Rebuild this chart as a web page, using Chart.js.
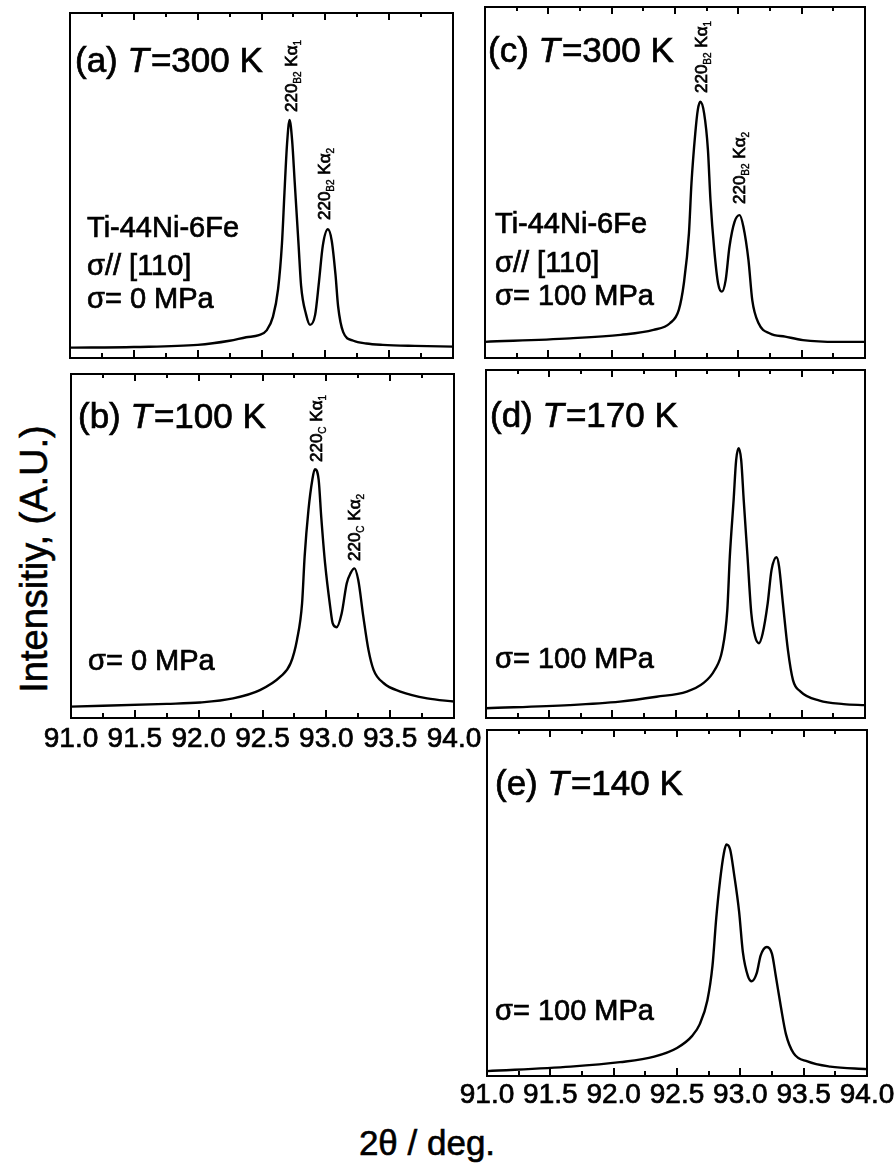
<!DOCTYPE html>
<html>
<head>
<meta charset="utf-8">
<script src="https://cdn.jsdelivr.net/npm/chart.js@4.4.0/dist/chart.umd.min.js"></script>
<style>
  html, body { margin: 0; padding: 0; background: #fff; }
  body { position: relative; width: 896px; height: 1167px; overflow: hidden; font-family: "Liberation Sans", Arial, sans-serif; }
  canvas { position: absolute; }
  .axis-title { position: absolute; color: #000; white-space: nowrap; text-align: center; -webkit-text-stroke: 0.6px #000; }
  #ytitle { left: -166px; top: 539px; width: 400px; height: 40px; line-height: 40px; font-size: 38px; transform: rotate(-90deg); }
  #xtitle { left: 277px; top: 1125px; width: 300px; height: 35px; line-height: 35px; font-size: 35px; }
</style>
</head>
<body>
<div class="axis-title" id="ytitle">Intensitiy, (A.U.)</div>
<div class="axis-title" id="xtitle">2θ / deg.</div>
<script>
// ---------- 2θ axis ----------
const majorTicks = [91.0, 91.5, 92.0, 92.5, 93.0, 93.5, 94.0];
const minorTicks = [91.25, 91.75, 92.25, 92.75, 93.25, 93.75];
const tickLabels = ['91.0', '91.5', '92.0', '92.5', '93.0', '93.5', '94.0'];

// ---------- (a) T=300 K, 0 MPa ----------
const thetaA = [91.0, 91.5, 92.0, 92.25, 92.38, 92.48, 92.54, 92.59, 92.63, 92.66, 92.68, 92.70, 92.72, 92.74, 92.76, 92.79, 92.81, 92.85, 92.88, 92.92, 92.95, 92.98, 93.02, 93.05, 93.08, 93.10, 93.14, 93.22, 93.32, 93.45, 93.7, 94.0];
const intA = [3.0, 3.2, 3.8, 5.0, 6.0, 6.6, 8.0, 12.0, 20.0, 33.0, 48.0, 62.0, 69.0, 63.0, 51.0, 33.0, 21.0, 12.5, 9.6, 12.5, 22.0, 32.5, 37.3, 34.0, 24.0, 15.0, 7.5, 5.0, 4.2, 3.8, 3.5, 3.3];

// ---------- (b) T=100 K, 0 MPa ----------
const thetaB = [91.0, 91.75, 92.01, 92.27, 92.48, 92.64, 92.72, 92.77, 92.81, 92.83, 92.86, 92.89, 92.91, 92.94, 92.96, 92.99, 93.03, 93.05, 93.08, 93.12, 93.16, 93.19, 93.22, 93.25, 93.29, 93.33, 93.37, 93.45, 93.58, 93.79, 94.0];
const intB = [3.3, 4.1, 4.5, 5.7, 8.1, 12.0, 15.9, 22.7, 33.3, 46.9, 60.5, 69.2, 72.3, 69.2, 58.5, 45.0, 32.4, 27.5, 26.4, 30.4, 39.2, 42.1, 43.5, 40.1, 29.4, 19.8, 14.0, 10.1, 7.7, 5.7, 4.8];

// ---------- (c) T=300 K, 100 MPa ----------
const thetaC = [91.0, 91.67, 92.07, 92.33, 92.46, 92.53, 92.57, 92.61, 92.63, 92.66, 92.68, 92.70, 92.73, 92.76, 92.78, 92.81, 92.84, 92.87, 92.90, 92.93, 92.97, 93.01, 93.04, 93.08, 93.11, 93.16, 93.25, 93.37, 93.51, 93.78, 94.0];
const intC = [4.6, 5.6, 6.6, 8.0, 9.9, 13.7, 21.3, 35.5, 49.8, 64.0, 70.7, 73.0, 69.7, 59.3, 45.0, 30.8, 21.3, 18.9, 22.2, 31.7, 38.8, 40.7, 37.4, 27.9, 16.5, 9.9, 7.0, 6.1, 5.1, 4.6, 4.6];

// ---------- (d) T=170 K, 100 MPa ----------
const thetaD = [91.0, 91.66, 92.06, 92.35, 92.59, 92.72, 92.81, 92.87, 92.91, 92.93, 92.96, 92.98, 93.00, 93.02, 93.04, 93.07, 93.10, 93.13, 93.16, 93.19, 93.23, 93.26, 93.30, 93.32, 93.35, 93.39, 93.43, 93.49, 93.64, 93.83, 94.0];
const intD = [2.8, 3.7, 4.7, 6.1, 7.6, 10.0, 13.8, 19.5, 31.0, 46.4, 62.6, 74.1, 77.5, 74.1, 62.6, 46.4, 30.1, 23.4, 21.5, 24.3, 33.0, 42.5, 46.2, 43.5, 33.0, 19.5, 10.9, 7.6, 5.0, 4.0, 3.7];

// ---------- (e) T=140 K, 100 MPa ----------
const thetaE = [91.0, 91.66, 92.05, 92.32, 92.50, 92.62, 92.68, 92.74, 92.78, 92.81, 92.84, 92.87, 92.89, 92.92, 92.95, 92.99, 93.02, 93.06, 93.09, 93.13, 93.16, 93.21, 93.25, 93.28, 93.32, 93.36, 93.42, 93.53, 93.71, 94.0];
const intE = [1.4, 2.7, 4.0, 5.6, 8.1, 11.6, 15.0, 21.9, 31.8, 45.7, 56.5, 64.4, 66.9, 65.4, 58.5, 47.6, 35.8, 28.9, 27.4, 29.8, 34.8, 37.3, 35.3, 28.9, 20.0, 12.1, 6.6, 4.2, 2.7, 2.0];

const FONT = '"Liberation Sans", Arial, sans-serif';
const PAD = 44;

// draws a run of text pieces (italic / subscript) one after another,
// with a hairline stroke so the glyphs come out a little heavier
function rich(ctx, x, y, parts) {
    let cx = x;
    for (const p of parts) {
        ctx.font = (p.italic ? 'italic ' : '') + p.size + 'px ' + FONT;
        ctx.lineWidth = p.size > 12 ? 0.7 : 0.4;
        ctx.fillText(p.text, cx, y + (p.dy || 0));
        ctx.strokeText(p.text, cx, y + (p.dy || 0));
        cx += ctx.measureText(p.text).width + (p.gap || 0);
    }
}

// same, turned to read bottom-to-top
function vertical(ctx, x, y, parts) {
    ctx.save();
    ctx.translate(x, y);
    ctx.rotate(-Math.PI / 2);
    rich(ctx, 0, 0, parts);
    ctx.restore();
}

const title = (tag, temp) => [
    { text: '(' + tag + ') ', size: 35 },
    { text: 'T', size: 35, italic: true, gap: 2 },
    { text: '=' + temp + ' K', size: 35 }
];
const line = (text) => [{ text: text, size: 29 }];
const peakTag = (phase, n) => [
    { text: '220', size: 17 },
    { text: phase, size: 10, dy: 4 },
    { text: ' K\u03b1', size: 17 },
    { text: n, size: 10, dy: 4 }
];

// box, inward ticks on top and bottom, tick labels and panel texts
const framePlugin = {
    id: 'framePlugin',
    afterDraw(chart, args, opts) {
        const { ctx, chartArea: a, scales: { x } } = chart;
        ctx.save();
        ctx.strokeStyle = '#000';
        ctx.fillStyle = '#000';
        ctx.lineWidth = 2;
        ctx.strokeRect(a.left, a.top, a.right - a.left, a.bottom - a.top);

        ctx.beginPath();
        majorTicks.forEach(v => {
            const px = Math.round(x.getPixelForValue(v));
            ctx.moveTo(px, a.bottom); ctx.lineTo(px, a.bottom - 8);
            ctx.moveTo(px, a.top); ctx.lineTo(px, a.top + 7);
        });
        minorTicks.forEach(v => {
            const px = Math.round(x.getPixelForValue(v));
            ctx.moveTo(px, a.bottom); ctx.lineTo(px, a.bottom - 5);
            ctx.moveTo(px, a.top); ctx.lineTo(px, a.top + 4);
        });
        ctx.stroke();

        if (opts.labelDrop) {
            ctx.font = '28px ' + FONT;
            ctx.textAlign = 'center';
            ctx.lineWidth = 0.7;
            majorTicks.forEach((v, i) => {
                const px = x.getPixelForValue(v);
                ctx.fillText(tickLabels[i], px, a.bottom + opts.labelDrop);
                ctx.strokeText(tickLabels[i], px, a.bottom + opts.labelDrop);
            });
        }
        ctx.textAlign = 'left';
        (opts.texts || []).forEach(t => rich(ctx, a.left + t.dx, a.top + t.dy, t.parts));
        (opts.peaks || []).forEach(t => vertical(ctx, a.left + t.dx, a.top + t.dy, t.parts));
        ctx.restore();
    }
};

function panel(frame, theta, intensity, opts) {
    const w = frame.right - frame.left + 2 * PAD;
    const h = frame.bottom - frame.top + 2 * PAD;
    const cv = document.createElement('canvas');
    cv.width = w;
    cv.height = h;
    cv.style.left = (frame.left - PAD) + 'px';
    cv.style.top = (frame.top - PAD) + 'px';
    cv.style.width = w + 'px';
    cv.style.height = h + 'px';
    document.body.appendChild(cv);

    return new Chart(cv, {
        type: 'line',
        data: {
            datasets: [{
                data: theta.map((t, i) => ({ x: t, y: intensity[i] })),
                borderColor: '#000',
                borderWidth: 2.4,
                pointRadius: 0,
                fill: false,
                cubicInterpolationMode: 'monotone'
            }]
        },
        options: {
            responsive: false,
            animation: false,
            layout: { padding: PAD },
            plugins: {
                legend: { display: false },
                tooltip: { enabled: false },
                framePlugin: opts
            },
            scales: {
                x: { type: 'linear', min: 91, max: 94, display: false },
                y: { min: 0, max: 100, display: false }
            }
        },
        plugins: [framePlugin]
    });
}

panel({ left: 70, top: 13, right: 453, bottom: 358 }, thetaA, intA, {
    texts: [
        { dx: 5, dy: 59, parts: title('a', '300') },
        { dx: 17, dy: 224, parts: line('Ti-44Ni-6Fe') },
        { dx: 17, dy: 262, parts: line('\u03c3// [110]') },
        { dx: 17, dy: 295, parts: line('\u03c3= 0 MPa') }
    ],
    peaks: [
        { dx: 227, dy: 99, parts: peakTag('B2', '1') },
        { dx: 260, dy: 207, parts: peakTag('B2', '2') }
    ]
});

panel({ left: 71, top: 374, right: 454, bottom: 718 }, thetaB, intB, {
    labelDrop: 29,
    texts: [
        { dx: 7, dy: 54, parts: title('b', '100') },
        { dx: 17, dy: 296, parts: line('\u03c3= 0 MPa') }
    ],
    peaks: [
        { dx: 251, dy: 88, parts: peakTag('C', '1') },
        { dx: 289, dy: 187, parts: peakTag('C', '2') }
    ]
});

panel({ left: 485, top: 7, right: 865, bottom: 358 }, thetaC, intC, {
    texts: [
        { dx: 3, dy: 55, parts: title('c', '300') },
        { dx: 10, dy: 226, parts: line('Ti-44Ni-6Fe') },
        { dx: 10, dy: 265, parts: line('\u03c3// [110]') },
        { dx: 10, dy: 298, parts: line('\u03c3= 100 MPa') }
    ],
    peaks: [
        { dx: 222, dy: 86, parts: peakTag('B2', '1') },
        { dx: 260, dy: 197, parts: peakTag('B2', '2') }
    ]
});

panel({ left: 486, top: 370, right: 865, bottom: 718 }, thetaD, intD, {
    texts: [
        { dx: 4, dy: 57, parts: title('d', '170') },
        { dx: 9, dy: 298, parts: line('\u03c3= 100 MPa') }
    ]
});

panel({ left: 487, top: 730, right: 867, bottom: 1076 }, thetaE, intE, {
    labelDrop: 27,
    texts: [
        { dx: 8, dy: 65, parts: title('e', '140') },
        { dx: 8, dy: 290, parts: line('\u03c3= 100 MPa') }
    ]
});
</script>
</body>
</html>
